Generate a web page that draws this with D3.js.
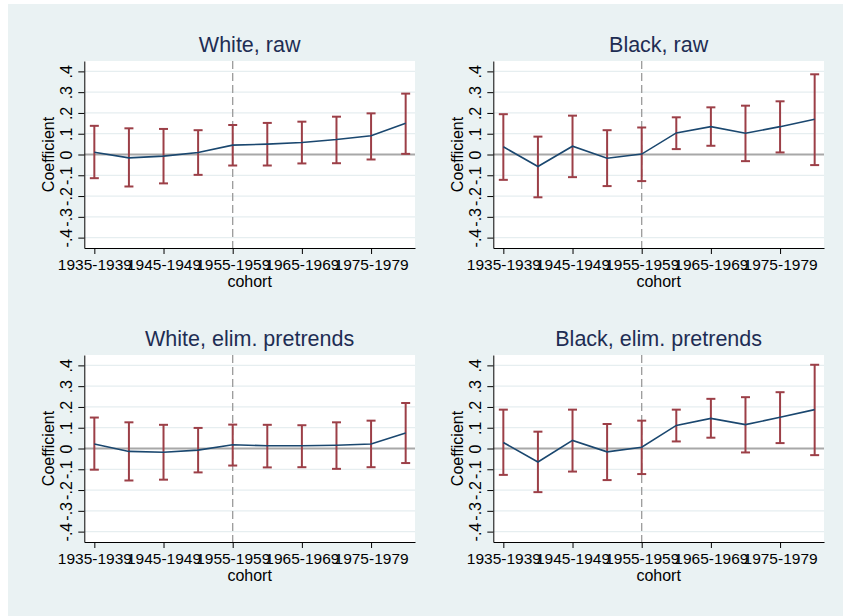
<!DOCTYPE html>
<html>
<head>
<meta charset="utf-8">
<script src="https://cdn.jsdelivr.net/npm/d3@7"></script>
<style>
body { margin: 0; background: #fff; }
text { font-family: "Liberation Sans", Arial, sans-serif; }
</style>
</head>
<body>
<div id="vis-container"></div>
<script>
// cohort categories, one point each
let cohorts = ["1935-1939", "1940-1944", "1945-1949", "1950-1954", "1955-1959",
               "1960-1964", "1965-1969", "1970-1974", "1975-1979", "1980-1984"];
let xTickIdx = [1, 3, 5, 7, 9];
let yTicks = [-0.4, -0.3, -0.2, -0.1, 0, 0.1, 0.2, 0.3, 0.4];
let yTickLabels = ["-.4", "-.3", "-.2", "-.1", "0", ".1", ".2", ".3", ".4"];
let panelTitles = ["White, raw", "Black, raw", "White, elim. pretrends", "Black, elim. pretrends"];

// coefficients and 95% CI bounds
let whiteRawCoef = [0.011, -0.016, -0.008, 0.010, 0.045, 0.050, 0.058, 0.072, 0.090, 0.150];
let whiteRawHi   = [0.138, 0.126, 0.123, 0.117, 0.142, 0.152, 0.158, 0.182, 0.198, 0.293];
let whiteRawLo   = [-0.114, -0.154, -0.139, -0.098, -0.053, -0.053, -0.043, -0.042, -0.024, 0.003];

let blackRawCoef = [0.037, -0.058, 0.040, -0.018, 0.002, 0.104, 0.134, 0.102, 0.134, 0.170];
let blackRawHi   = [0.194, 0.086, 0.187, 0.117, 0.130, 0.179, 0.227, 0.235, 0.256, 0.386];
let blackRawLo   = [-0.122, -0.206, -0.109, -0.152, -0.128, 0.026, 0.042, -0.032, 0.010, -0.051];

let whiteElimCoef = [0.022, -0.014, -0.018, -0.008, 0.018, 0.013, 0.013, 0.016, 0.022, 0.075];
let whiteElimHi   = [0.149, 0.126, 0.114, 0.099, 0.115, 0.114, 0.112, 0.126, 0.134, 0.219];
let whiteElimLo   = [-0.102, -0.154, -0.150, -0.115, -0.082, -0.091, -0.090, -0.098, -0.090, -0.070];

let blackElimCoef = [0.029, -0.065, 0.039, -0.016, 0.006, 0.111, 0.145, 0.115, 0.150, 0.187];
let blackElimHi   = [0.187, 0.081, 0.187, 0.118, 0.134, 0.187, 0.239, 0.247, 0.271, 0.403];
let blackElimLo   = [-0.127, -0.210, -0.111, -0.152, -0.123, 0.034, 0.052, -0.019, 0.026, -0.032];

let series = [
    [whiteRawCoef, whiteRawLo, whiteRawHi],
    [blackRawCoef, blackRawLo, blackRawHi],
    [whiteElimCoef, whiteElimLo, whiteElimHi],
    [blackElimCoef, blackElimLo, blackElimHi]
];

let width = 843;
let height = 616;

let svg = d3.select("#vis-container").append("svg")
    .attr("width", width)
    .attr("height", height);

// stata style graph region (white strip on top / left like the export)
svg.append("rect").attr("x", 8).attr("y", 4).attr("width", width - 8).attr("height", height - 4)
    .attr("fill", "#eaf2f3");

// plot region of each panel
let plotW = 330.7;
let plotH = 187;
let origins = [[84.3, 61], [493.3, 61], [84.3, 355], [493.3, 355]];

let x = d3.scaleLinear().domain([0.71, 10.27]).range([0, plotW]);
let y = d3.scaleLinear().domain([-0.45, 0.45]).range([plotH, 0]);

series.forEach((s, p) => {
    let g = svg.append("g").attr("transform", "translate(" + origins[p][0] + "," + origins[p][1] + ")");
    let pts = cohorts.map((c, i) => ({ i: i + 1, b: s[0][i], lo: s[1][i], hi: s[2][i] }));

    g.append("rect").attr("width", plotW).attr("height", plotH).attr("fill", "#fff");

    // gridlines
    g.selectAll(".grid").data(yTicks).enter().append("line")
        .attr("x1", 0).attr("x2", plotW)
        .attr("y1", d => y(d)).attr("y2", d => y(d))
        .attr("stroke", "#e6eef0").attr("stroke-width", 1.2);

    // zero line
    g.append("line").attr("x1", 0).attr("x2", plotW)
        .attr("y1", y(0)).attr("y2", y(0))
        .attr("stroke", "#a8a8a8").attr("stroke-width", 2);

    // vertical dashed line at 1955-1959
    g.append("line").attr("x1", x(5)).attr("x2", x(5))
        .attr("y1", 0).attr("y2", plotH)
        .attr("stroke", "#9a9a9a").attr("stroke-width", 1.3)
        .attr("stroke-dasharray", "8,4");

    // error bars
    let bars = g.selectAll(".cap").data(pts).enter().append("g").attr("stroke", "#9c3f47").attr("stroke-width", 2);
    bars.append("line").attr("x1", d => x(d.i)).attr("x2", d => x(d.i))
        .attr("y1", d => y(d.lo)).attr("y2", d => y(d.hi));
    bars.append("line").attr("x1", d => x(d.i) - 4.5).attr("x2", d => x(d.i) + 4.5)
        .attr("y1", d => y(d.hi)).attr("y2", d => y(d.hi));
    bars.append("line").attr("x1", d => x(d.i) - 4.5).attr("x2", d => x(d.i) + 4.5)
        .attr("y1", d => y(d.lo)).attr("y2", d => y(d.lo));

    // coefficient line
    g.append("path").datum(pts)
        .attr("fill", "none").attr("stroke", "#1a476f").attr("stroke-width", 1.6)
        .attr("d", d3.line().x(d => x(d.i)).y(d => y(d.b)));

    // y axis, labels turned like stata
    let yAxis = g.append("g")
        .call(d3.axisLeft(y).tickValues(yTicks).tickFormat((d, i) => yTickLabels[i]).tickSize(6).tickSizeOuter(0));
    yAxis.selectAll("text")
        .attr("transform", "rotate(-90)")
        .attr("x", 0).attr("y", -12.5).attr("dy", 0)
        .attr("text-anchor", "middle")
        .style("font-size", "16px");

    // x axis
    let xAxis = g.append("g").attr("transform", "translate(0," + plotH + ")")
        .call(d3.axisBottom(x).tickValues(xTickIdx).tickFormat(d => cohorts[d - 1]).tickSize(6).tickSizeOuter(0));
    xAxis.selectAll("text").attr("y", 22).attr("dy", 0).style("font-size", "15.5px");

    [yAxis, xAxis].forEach(a => {
        a.attr("font-family", null).attr("font-size", null).attr("color", "#000");
    });

    // titles
    g.append("text").attr("transform", "translate(-30.5," + (plotH / 2) + ") rotate(-90)")
        .attr("text-anchor", "middle").style("font-size", "16px").text("Coefficient");
    g.append("text").attr("x", plotW / 2).attr("y", plotH + 39)
        .attr("text-anchor", "middle").style("font-size", "16px").text("cohort");
    g.append("text").attr("x", plotW / 2).attr("y", -9.5)
        .attr("text-anchor", "middle").style("font-size", "21.5px").attr("fill", "#1e2d53")
        .text(panelTitles[p]);
});
</script>
</body>
</html>
